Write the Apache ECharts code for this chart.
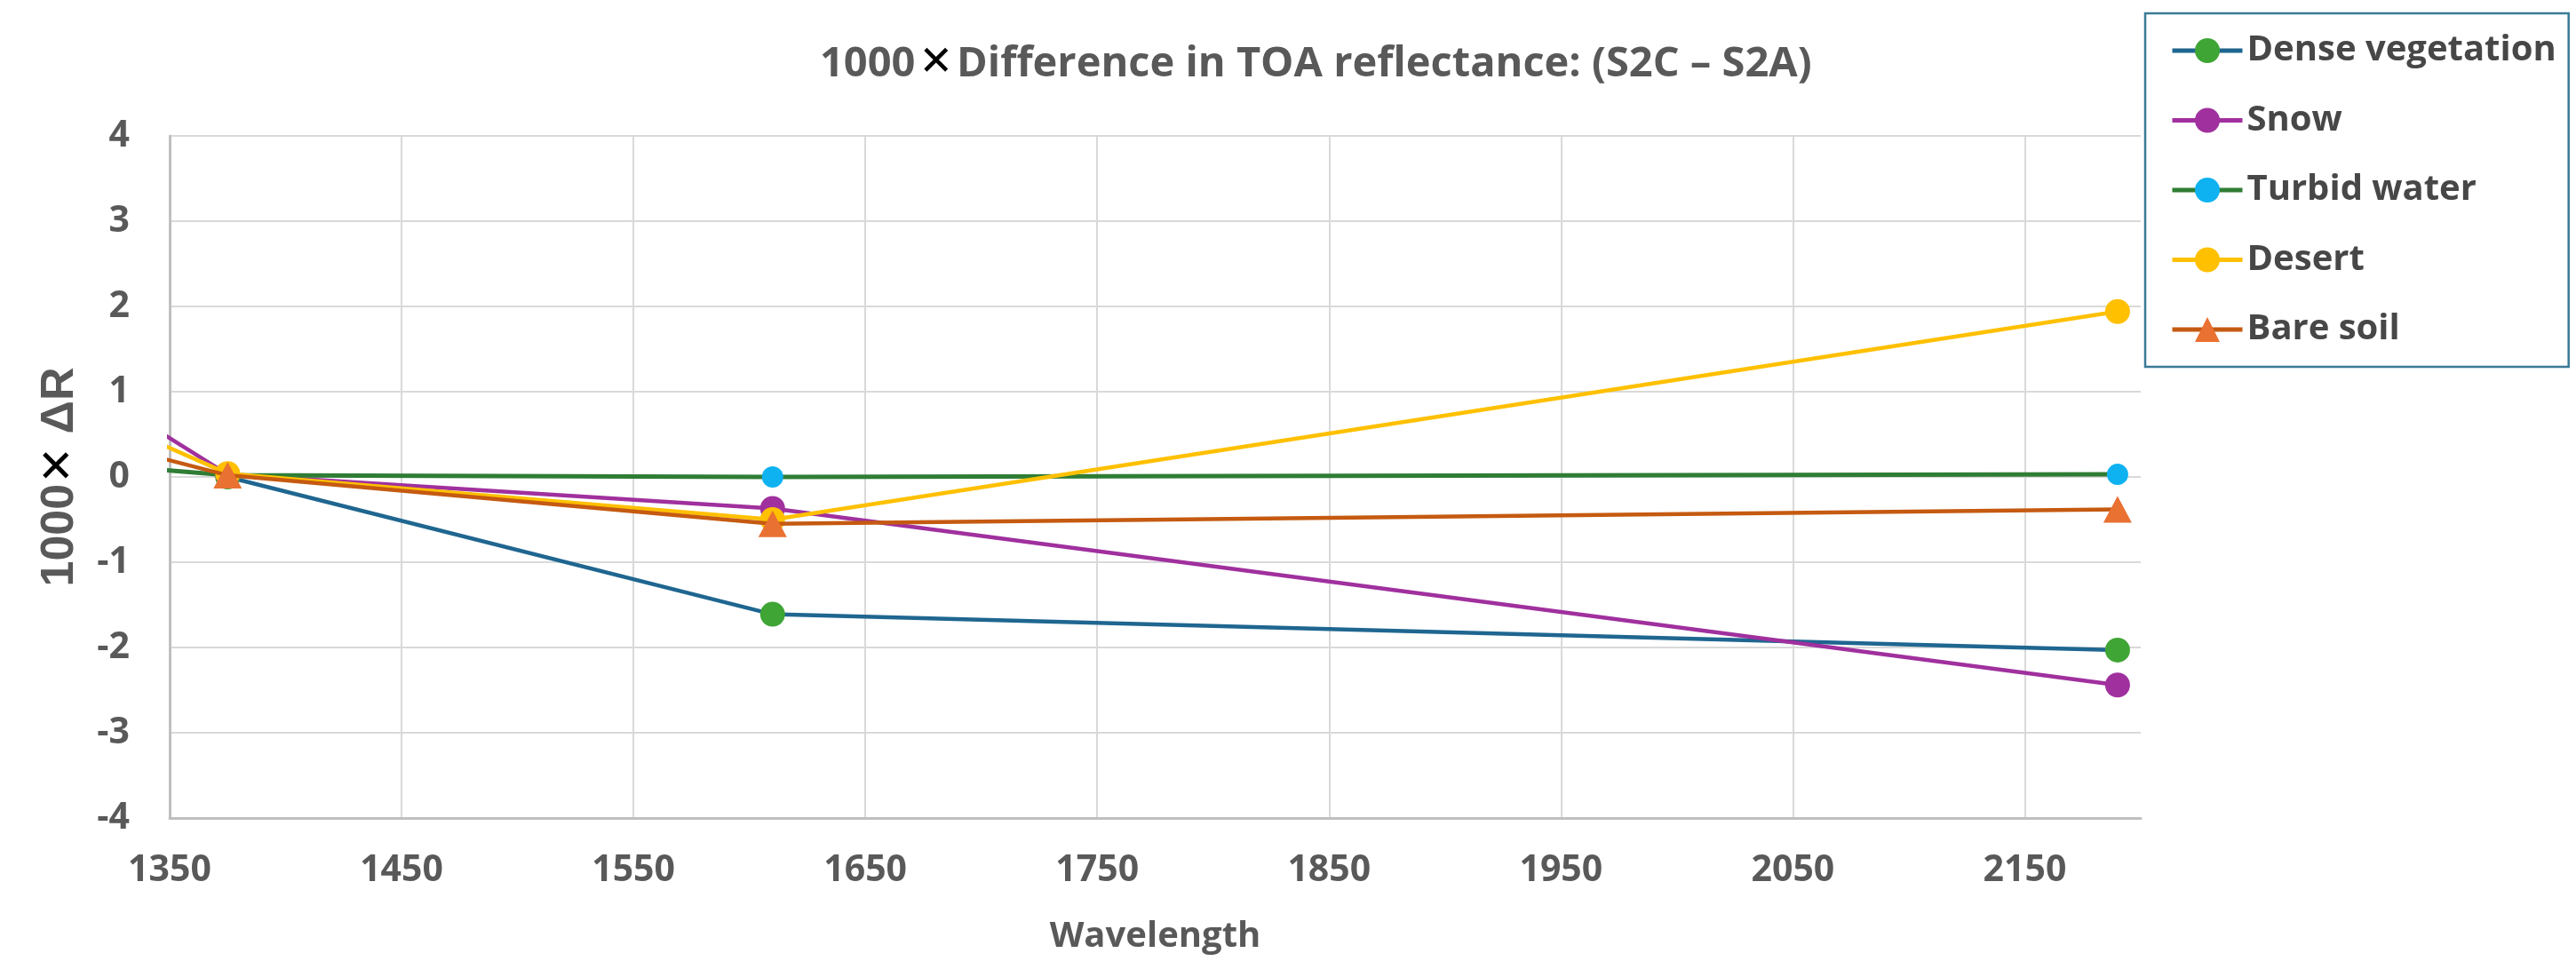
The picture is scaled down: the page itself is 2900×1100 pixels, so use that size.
<!DOCTYPE html>
<html>
<head>
<meta charset="utf-8">
<script src="https://cdn.jsdelivr.net/npm/echarts@6/dist/echarts.min.js"></script>
<style>
html,body{margin:0;padding:0;background:#fff;}
#chart{width:2900px;height:1100px;}
</style>
</head>
<body>
<div id="chart"></div>
<script>
// Wavelengths (nm) of the bands; first one lies left of the visible axis range
const wavelengths = [945, 1375, 1610, 2190];
const seriesNames = ['Dense vegetation', 'Snow', 'Turbid water', 'Desert', 'Bare soil'];
const denseVegetation = [null, 0.00, -1.61, -2.03];
const snow = [7.34, 0.03, -0.37, -2.44];
const turbidWater = [0.97, 0.02, 0.00, 0.03];
const desert = [5.20, 0.04, -0.50, 1.94];
const bareSoil = [3.03, 0.02, -0.55, -0.38];
const xTicks = [1350, 1450, 1550, 1650, 1750, 1850, 1950, 2050, 2150];
const yTicks = [-4, -3, -2, -1, 0, 1, 2, 3, 4];

const values = [denseVegetation, snow, turbidWater, desert, bareSoil];
const lineColors = ['#1f6690', '#a0309e', '#2f7d35', '#ffc000', '#c55a11'];
const markerColors = ['#3fa535', '#a0309e', '#0fb2f0', '#ffc000', '#e97132'];
const symbols = ['circle', 'circle', 'circle', 'circle', 'triangle'];
const symbolSizes = [28, 28, 24, 28, [32, 30]];

function pairs(arr) {
  const out = [];
  arr.forEach((v, i) => { if (v !== null) out.push([wavelengths[i], v]); });
  return out;
}

const chart = echarts.init(document.getElementById('chart'), null, {renderer: 'canvas'});
const gray = '#595959';
const font = 'Open Sans';

chart.setOption({
  animation: false,
  backgroundColor: '#ffffff',
  title: {
    text: '{a|1000}{x|✕}{a|Difference in TOA reflectance: (S2C – S2A)}',
    left: 918,
    top: 44,
    textStyle: {
      rich: {
        a: {fontFamily: font, fontWeight: 'bold', fontSize: 47, color: gray},
        x: {fontFamily: 'DejaVu Sans', fontWeight: 'normal', fontSize: 46, color: '#000', padding: [0, 4, 0, 4]}
      }
    }
  },
  legend: {
    orient: 'vertical',
    left: 2415,
    top: 15,
    padding: [22, 14, 22, 28],
    itemWidth: 79,
    itemHeight: 35,
    itemGap: 38.5,
    borderColor: '#3a7a97',
    borderWidth: 2.5,
    lineStyle: {width: 5},
    textStyle: {fontFamily: font, fontWeight: 'bold', fontSize: 40, lineHeight: 35, color: '#474747'},
    data: seriesNames
  },
  grid: {left: 191, right: 490, top: 153, bottom: 179, containLabel: false},
  xAxis: {
    type: 'value',
    min: xTicks[0],
    max: 2200,
    interval: 100,
    name: 'Wavelength',
    nameLocation: 'middle',
    nameGap: 114,
    nameTextStyle: {fontFamily: font, fontWeight: 'bold', fontSize: 40, color: gray},
    axisLine: {onZero: false, lineStyle: {color: '#bfbfbf', width: 3}},
    axisTick: {show: false},
    axisLabel: {
      fontFamily: font, fontWeight: 'bold', fontSize: 41, color: gray, margin: 39,
      showMaxLabel: false,
      formatter: v => (xTicks.indexOf(v) >= 0 ? String(v) : '')
    },
    splitLine: {show: true, showMinLine: false, showMaxLine: false, lineStyle: {color: '#d9d9d9', width: 2}}
  },
  yAxis: {
    type: 'value',
    min: yTicks[0],
    max: yTicks[yTicks.length - 1],
    interval: 1,
    name: '{a|1000}{x|✕}{a| ΔR}',
    nameLocation: 'middle',
    nameGap: 97,
    nameRotate: 90,
    nameTextStyle: {
      rich: {
        a: {fontFamily: 'Liberation Sans', fontWeight: 'bold', fontSize: 52, color: gray},
        x: {fontFamily: 'DejaVu Sans', fontWeight: 'normal', fontSize: 50, color: '#000'}
      }
    },
    axisLine: {show: true, lineStyle: {color: '#bfbfbf', width: 3}},
    axisTick: {show: false},
    axisLabel: {fontFamily: font, fontWeight: 'bold', fontSize: 41, color: gray, margin: 45},
    splitLine: {show: true, lineStyle: {color: '#d9d9d9', width: 2}}
  },
  series: seriesNames.map((name, i) => ({
    name: name,
    type: 'line',
    data: pairs(values[i]),
    clip: true,
    symbol: symbols[i],
    symbolSize: symbolSizes[i],
    showAllSymbol: true,
    lineStyle: {color: lineColors[i], width: i === 2 ? 5 : 4.5},
    itemStyle: {color: markerColors[i], borderWidth: 0},
    z: 2 + i
  }))
});
</script>
</body>
</html>
